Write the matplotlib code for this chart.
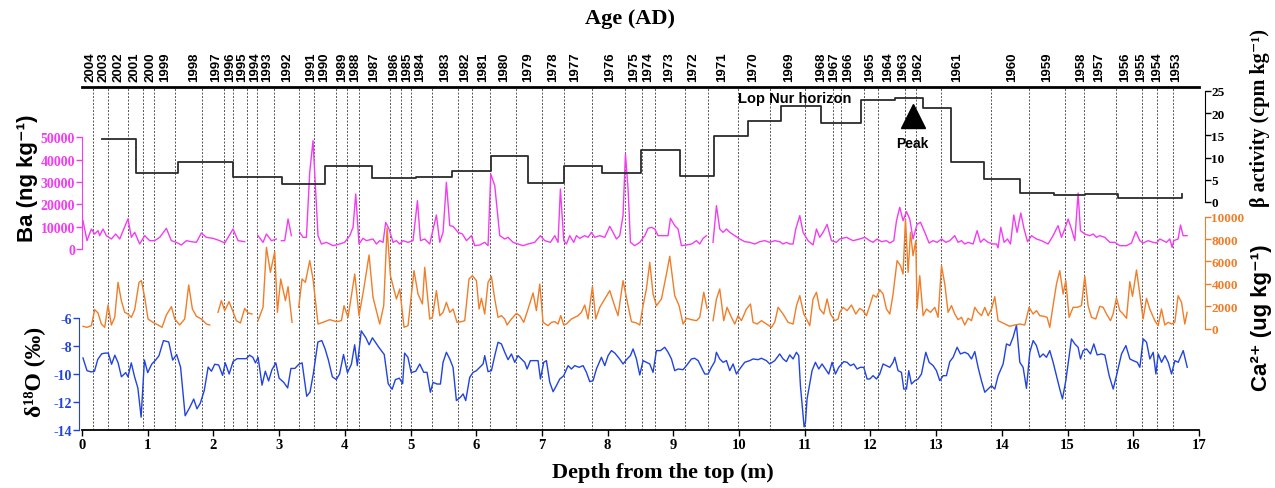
import numpy as np
import matplotlib
matplotlib.use("Agg")
import matplotlib.pyplot as plt

nan = float("nan")

# ---- values ----
years = list(range(2004, 1952, -1))
# where each year label sits on the top axis
label_depth = [0.126, 0.330, 0.549, 0.798, 1.046, 1.263, 1.699, 2.040, 2.257, 2.444, 2.630, 2.816,
               3.128, 3.481, 3.686, 3.953, 4.152, 4.451, 4.743, 4.947, 5.146, 5.519, 5.830, 6.110,
               6.420, 6.793, 7.166, 7.507, 8.035, 8.408, 8.618, 8.930, 9.307, 9.737, 10.209, 10.757,
               11.244, 11.442, 11.655, 11.990, 12.264, 12.493, 12.721, 13.313, 14.150, 14.683, 15.201,
               15.475, 15.870, 16.114, 16.358, 16.647]
# dashed year boundaries
line_depth = [0.167, 0.396, 0.700, 0.928, 1.091, 1.411, 1.833, 2.161, 2.298, 2.518, 2.670, 2.922,
              3.303, 3.527, 3.872, 4.033, 4.216, 4.683, 4.862, 5.014, 5.333, 5.723,
              5.936, 6.216, 6.612, 7.002, 7.336, 7.769, 8.260, 8.530, 8.728, 9.174, 9.534, 9.985,
              10.467, 11.000, 11.431, 11.559, 11.903, 12.116, 12.533, 12.700, 13.081, 13.831,
              14.414, 14.962, 15.251, 15.734, 16.125, 16.363, 16.606]

beta_depth = [0.304, 0.817, 1.461, 2.298, 3.050, 3.694, 4.420, 5.090, 5.632, 6.221, 6.789, 7.332,
              7.915, 8.515, 9.098, 9.619, 10.137, 10.635, 11.244, 11.852, 12.370, 12.801, 13.233,
              13.729, 14.280, 14.790, 15.272, 15.769, 16.746]
beta_value = [14.3, 6.5, 9.1, 5.6, 4.05, 8.2, 5.5, 5.7, 7.05, 10.3, 4.2, 8.0, 6.5, 11.8, 5.9, 14.9,
              18.2, 21.7, 17.8, 23.0, 23.4, 21.1, 8.9, 5.2, 2.0, 1.6, 1.7, 0.9, 1.7]

ba_depth = [0.015, 0.076, 0.143, 0.193, 0.244, 0.269, 0.320, 0.371, 0.447, 0.513, 0.574, 0.700, 0.751,
            0.802, 0.878, 0.954, 1.030, 1.107, 1.183, 1.284, 1.360, 1.436, 1.513, 1.589, 1.665, 1.741,
            1.817, 1.893, 1.995, 2.096, 2.172, 2.299, 2.375, 2.476, nan, 2.679, 2.755, 2.807, 2.883,
            2.959, nan, 3.035, 3.085, 3.136, 3.187, nan, 3.314, 3.364, 3.415, 3.466, 3.516, 3.592,
            3.644, 3.720, 3.770, 3.821, 3.922, 3.998, 4.075, 4.125, 4.166, 4.216, 4.277, 4.328, 4.429,
            4.481, 4.531, 4.582, 4.622, 4.673, 4.734, 4.785, 4.836, 4.886, 4.962, 5.038, 5.105, 5.151,
            5.216, 5.292, 5.394, 5.445, 5.495, 5.546, 5.597, 5.647, 5.723, 5.790, 5.851, 5.927, 5.977,
            6.053, 6.129, 6.180, 6.221, 6.282, 6.358, 6.434, 6.484, 6.560, 6.636, 6.712, 6.789, 6.890,
            6.977, 7.043, 7.129, 7.195, 7.245, 7.281, 7.332, 7.373, 7.423, 7.484, 7.525, 7.575, 7.651,
            7.702, 7.753, 7.804, 7.880, 7.956, 8.032, 8.082, 8.134, 8.184, 8.234, 8.271, 8.311, 8.347,
            8.412, 8.489, 8.565, 8.615, 8.667, 8.717, 8.767, 8.843, 8.919, 8.956, 9.021, 9.072, 9.123,
            9.200, 9.276, 9.352, 9.402, 9.452, 9.504, nan, 9.604, 9.656, 9.706, 9.756, 9.808, 9.859,
            9.935, 10.011, 10.087, 10.163, 10.239, 10.315, 10.391, 10.467, 10.543, 10.619, 10.670,
            10.721, 10.772, 10.822, 10.863, 10.924, 10.974, 11.050, 11.126, 11.178, 11.228, 11.279,
            11.340, 11.406, 11.482, 11.533, 11.635, 11.735, 11.837, 11.913, 11.989, 12.040, 12.100,
            12.167, 12.243, 12.294, 12.355, 12.396, 12.446, 12.496, 12.548, 12.598, 12.648, 12.709,
            12.761, 12.827, 12.892, 12.953, 13.014, 13.081, 13.146, 13.207, 13.283, 13.333, 13.385,
            13.435, 13.486, 13.562, 13.623, 13.674, 13.725, 13.790, 13.866, 13.918, 13.942, 13.983,
            14.034, 14.085, 14.131, 14.181, 14.231, 14.288, 14.338, 14.390, 14.451, 14.527, 14.603,
            14.703, 14.779, 14.855, 14.907, 14.957, 15.008, 15.059, 15.110, 15.160, 15.196, 15.262,
            15.338, 15.389, 15.440, 15.490, 15.566, 15.643, 15.719, 15.795, 15.897, 15.973, 16.038,
            16.099, 16.149, 16.225, 16.301, 16.353, 16.404, 16.454, 16.505, 16.556, 16.591, 16.616,
            16.682, 16.719, 16.758, 16.819]
ba_value = [12680, 3730, 8950, 6710, 8210, 5970, 8950, 5970, 4480, 6710, 4480, 13500, 5220,
            7460, 2240, 5970, 3730, 3730, 5220, 9250, 3730, 2980, 1790, 3730, 3280, 2980,
            7160, 5220, 4770, 3730, 2680, 8950, 3730, 3280, nan, 5970, 2980, 6710, 3730,
            4480, nan, 3730, 3730, 13430, 5970, nan, 7460, 5220, 5220, 34330, 48490, 5970,
            2240, 2980, 2240, 1490, 2240, 2980, 5970, 9700, 24620, 2240, 4770, 3730, 4480,
            2240, 3730, 2980, 11940, 8950, 2980, 3730, 2240, 3730, 2980, 3730, 21640, 3730,
            4480, 2240, 15220, 2980, 7460, 29840, 10440, 10150, 7460, 6710, 3730, 5970, 1490,
            1790, 2980, 1490, 33570, 28350, 5970, 4480, 5220, 2980, 2240, 1490, 2240, 2980,
            5970, 3730, 2980, 5970, 2980, 26860, 3730, 2240, 5970, 2980, 5970, 4770, 5970,
            5220, 7460, 5220, 5970, 5220, 10150, 7460, 4480, 5970, 14920, 42520, 26860, 2980,
            1490, 2980, 5970, 9250, 9700, 8950, 5970, 5970, 5970, 13730, 10440, 8950, 1490,
            1790, 2240, 3730, 2240, 4770, 5970, nan, 2980, 19400, 8950, 7460, 8950, 7460,
            5970, 4480, 3280, 2980, 2240, 3280, 3730, 2980, 3730, 3280, 2240,
            2980, 2240, 2240, 8950, 14920, 7460, 3730, 1790, 8950, 5220, 7460,
            11040, 3730, 2980, 4480, 5220, 3730, 4480, 5220, 3730, 2980, 4480,
            3280, 3730, 2680, 3730, 12680, 18650, 12680, 16710, 13430, 4480, 11040,
            11940, 7460, 2680, 3730, 2980, 4480, 2980, 3730, 5970, 2980, 3730,
            2240, 2980, 2240, 8200, 2980, 4480, 2980, 2240, 2240, 500, 9700,
            2980, 4480, 2240, 15220, 7460, 16110, 8950, 3280, 5970, 4480, 3730,
            2240, 5970, 10440, 5220, 8950, 13430, 8950, 3730, 25070, 8200, 6710,
            5970, 6710, 5220, 5970, 5220, 2980, 2980, 1490, 1490, 2680, 7760,
            3730, 2680, 3730, 2980, 2680, 4480, 3730, 2980, 4480, 750, 3730,
            4480, 10740, 5970, 5970]

ca_depth = [0.015, 0.076, 0.143, 0.193, 0.244, 0.295, 0.346, 0.396, 0.447, 0.498, 0.548, 0.599, 0.650,
            0.700, 0.751, 0.802, 0.868, 0.904, 0.954, 1.005, 1.081, 1.157, 1.218, 1.284, 1.361, 1.411,
            1.487, 1.563, 1.624, 1.680, 1.741, 1.817, 1.893, 1.944, nan, 2.070, 2.121, 2.172, 2.238,
            2.298, 2.350, 2.411, 2.476, 2.527, 2.588, nan, 2.679, 2.755, 2.807, 2.867, 2.933, 2.974,
            3.024, 3.096, 3.136, 3.197, nan, 3.298, 3.349, 3.400, 3.466, 3.516, 3.592, 3.668, 3.770,
            3.872, 3.948, 3.988, 4.049, 4.151, 4.216, 4.288, 4.369, 4.429, 4.531, 4.592, 4.643, 4.694,
            4.785, 4.836, 4.901, 4.962, 5.053, 5.114, 5.181, 5.216, 5.292, 5.333, 5.394, 5.445, 5.495,
            5.546, 5.597, 5.647, 5.708, 5.775, 5.825, 5.890, 5.942, 6.003, 6.043, 6.079, 6.129, 6.180,
            6.231, 6.282, 6.332, 6.383, 6.434, 6.469, 6.536, 6.612, 6.662, 6.723, 6.789, 6.865, 6.916,
            6.967, 7.017, 7.093, 7.145, 7.195, 7.245, 7.286, 7.332, 7.373, 7.449, 7.499, 7.550, 7.601,
            7.651, 7.702, 7.769, 7.819, 7.880, 7.956, 8.032, 8.108, 8.158, 8.234, 8.311, 8.362, 8.438,
            8.489, 8.539, 8.590, 8.641, 8.691, 8.743, 8.819, 8.895, 8.945, 9.021, 9.087, 9.148, 9.200,
            9.276, 9.352, 9.402, 9.463, 9.513, nan, 9.604, 9.656, 9.706, 9.767, 9.817, 9.884, 9.935,
            9.985, 10.036, 10.112, 10.174, 10.213, 10.274, 10.341, 10.417, 10.493, 10.543, 10.594,
            10.670, 10.746, 10.822, 10.874, 10.924, 10.985, 11.026, 11.076, 11.126, 11.178, 11.228,
            11.289, 11.340, 11.391, 11.457, 11.507, 11.533, 11.583, 11.644, 11.711, 11.776, 11.837,
            11.887, 11.939, 11.989, 12.040, 12.092, 12.142, 12.192, 12.243, 12.294, 12.344, 12.405,
            12.457, 12.496, 12.533, 12.573, 12.609, 12.648, 12.690, 12.709, 12.750, 12.801, 12.852,
            12.913, 12.979, 13.029, 13.081, 13.131, 13.181, 13.233, 13.283, 13.333, 13.385, 13.435,
            13.486, 13.538, 13.588, 13.638, 13.690, 13.740, 13.790, 13.842, 13.892, 13.942, 13.994,
            14.044, 14.120, 14.196, 14.272, 14.349, 14.414, 14.475, 14.527, 14.577, 14.638, 14.688,
            14.729, 14.779, 14.831, 14.881, 14.932, 14.973, 15.023, 15.084, 15.145, 15.211, 15.262,
            15.312, 15.364, 15.429, 15.490, 15.541, 15.592, 15.653, 15.692, 15.744, 15.795, 15.845,
            15.897, 15.947, 15.988, 16.049, 16.099, 16.149, 16.201, 16.251, 16.327, 16.378, 16.429,
            16.480, 16.530, 16.582, 16.632, 16.682, 16.734, 16.784, 16.819]
ca_value = [195, 105, 254, 1685, 1386, 400, 105, 2100, 313, 999, 4130, 2490, 1446,
            1297, 999, 1685, 4130, 4280, 2790, 850, 552, 313, 105, 1208, 1953, 850,
            313, 850, 3890, 1744, 1090, 850, 400, 313, nan, 1446, 2490, 1595, 2400,
            1505, 700, 492, 1804, 1386, 1297, nan, 700, 1894, 7260, 5024, 6870, 1446,
            4430, 2490, 3740, 552, nan, 1894, 4430, 4130, 6070, 4430, 400, 552, 790,
            612, 700, 2043, 999, 4875, 1148, 3533, 6575, 2790, 400, 2043, 9000, 4725,
            2640, 3533, 105, 254, 5173, 3085, 2190, 5470, 850, 1000, 3385, 1148, 1446,
            2340, 1446, 1744, 552, 612, 700, 4430, 4725, 4280, 1744, 2700, 1297, 4130,
            4666, 2640, 1000, 1148, 850, 313, 850, 1357, 1148, 552, 1744, 3175, 1595,
            3980, 552, 254, 552, 612, 400, 1148, 313, 400, 850, 1000, 1148, 1446,
            2100, 850, 3775, 850, 1894, 2640, 3385, 1985, 1148, 4280, 2043, 612, 492,
            313, 2043, 3533, 5920, 3085, 2043, 2640, 4875, 6460, 2935, 2043, 400, 910,
            790, 700, 1000, 3240, 1804, nan, 700, 2640, 3533, 700, 1894, 1000, 400,
            1148, 700, 1744, 2190, 552, 400, 700, 400, 105, 552, 1894,
            1297, 552, 400, 2043, 2935, 1297, 850, 254, 2640, 3240, 1744,
            1297, 2640, 1297, 700, 850, 1446, 1894, 1595, 2100, 1297, 1804,
            1595, 1148, 2043, 2997, 2790, 3470, 3085, 1744, 1297, 3085, 6070,
            5620, 4875, 9795, 5024, 8605, 6510, 7850, 1744, 4725, 1148, 1744,
            1446, 1894, 1000, 5620, 3980, 1446, 2043, 1297, 790, 1000, 313,
            910, 700, 1894, 1446, 1148, 1894, 1148, 1744, 2845, 700, 552,
            400, 195, 313, 400, 313, 1894, 1297, 1595, 1148, 1090, 1000,
            105, 2043, 3980, 5173, 3085, 4280, 1000, 1894, 1894, 2043, 4666,
            2043, 1000, 850, 1985, 1894, 1297, 700, 1297, 2730, 1595, 1297,
            910, 4190, 2880, 5233, 3085, 850, 2700, 1744, 700, 254, 1744,
            313, 552, 400, 552, 2935, 2340, 400, 1446]

d18o_depth = [0.015, 0.076, 0.14, 0.19, 0.24, 0.30, 0.35, 0.40, 0.45, 0.50, 0.55, 0.60, 0.665, 0.70,
              0.75, 0.80, 0.85, 0.90, 0.95, 1.00, 1.06, 1.12, 1.17, 1.24, 1.32, 1.38, 1.44, 1.50, 1.57,
              1.64, 1.70, 1.75, 1.80, 1.86, 1.92, 1.97, 2.02, 2.08, 2.14, 2.18, 2.24, 2.30, 2.36, 2.44,
              2.50, 2.55, 2.60, 2.64, 2.68, 2.74, 2.79, 2.84, 2.89, 2.95, 3.00, 3.07, 3.13, 3.18, 3.24,
              3.30, 3.35, 3.42, 3.47, 3.52, 3.59, 3.65, 3.70, 3.75, 3.81, 3.87, 3.92, 3.98, 4.04, 4.10,
              4.15, 4.19, 4.25, 4.32, 4.37, 4.42, 4.52, 4.60, 4.66, 4.72, 4.77, 4.83, 4.88, 4.91, 4.96,
              5.01, 5.08, 5.140, 5.201, 5.251, 5.302, 5.343, 5.404, 5.455, 5.495, 5.546, 5.597, 5.647,
              5.698, 5.759, 5.800, 5.840, 5.901, 5.952, 6.003, 6.053, 6.104, 6.129, 6.180, 6.231, 6.282,
              6.332, 6.383, 6.434, 6.484, 6.536, 6.586, 6.636, 6.687, 6.738, 6.774, 6.824, 6.890, 6.941,
              6.977, 7.027, 7.068, 7.119, 7.170, 7.220, 7.271, 7.332, 7.398, 7.449, 7.499, 7.565, 7.626,
              7.677, 7.728, 7.778, 7.829, 7.905, 7.956, 8.007, 8.057, 8.108, 8.174, 8.235, 8.296, 8.346,
              8.387, 8.438, 8.489, 8.539, 8.590, 8.641, 8.691, 8.742, 8.803, 8.869, 8.920, 8.971, 9.021,
              9.072, 9.148, 9.199, 9.275, 9.326, 9.377, 9.427, 9.478, 9.529, 9.579, 9.630, 9.655, 9.706,
              9.757, 9.808, 9.858, 9.909, 9.960, 10.010, 10.086, 10.162, 10.213, 10.289, 10.340, 10.416,
              10.467, 10.543, 10.619, 10.670, 10.721, 10.771, 10.822, 10.873, 10.908, 10.934, 10.99,
              11.01, 11.035, 11.111, 11.162, 11.213, 11.263, 11.314, 11.365, 11.416, 11.467, 11.517,
              11.593, 11.644, 11.695, 11.746, 11.796, 11.847, 11.898, 11.949, 11.989, 12.040, 12.091,
              12.141, 12.192, 12.243, 12.294, 12.344, 12.370, 12.420, 12.471, 12.507, 12.548, 12.583,
              12.624, 12.675, 12.725, 12.776, 12.842, 12.893, 12.954, 13.004, 13.055, 13.106, 13.156,
              13.207, 13.258, 13.319, 13.369, 13.435, 13.486, 13.537, 13.588, 13.638, 13.689, 13.740,
              13.791, 13.842, 13.892, 13.943, 14.019, 14.070, 14.121, 14.171, 14.222, 14.273, 14.323,
              14.374, 14.425, 14.476, 14.526, 14.577, 14.628, 14.678, 14.729, 14.780, 14.830, 14.881,
              14.922, 14.973, 15.059, 15.110, 15.160, 15.196, 15.237, 15.288, 15.349, 15.399, 15.450,
              15.516, 15.567, 15.633, 15.694, 15.744, 15.821, 15.887, 15.948, 15.999, 16.060, 16.100,
              16.151, 16.202, 16.252, 16.303, 16.344, 16.379, 16.430, 16.481, 16.532, 16.582, 16.633,
              16.684, 16.760, 16.821]
d18o_value = [-8.85, -9.76, -9.85, -9.80, -8.95, -8.55, -8.50, -8.50, -9.30, -8.65, -9.2, -10.2, -9.9, -10.2,
              -9.2, -10.2, -11.0, -13.1, -9.0, -9.9, -9.3, -9.0, -8.7, -7.6, -7.7, -9.0, -8.6, -9.5, -13.0,
              -12.4, -11.8, -12.5, -12.1, -11.2, -9.5, -9.8, -9.3, -9.35, -10.1, -9.2, -10.0, -9.1, -8.9, -8.9,
              -8.9, -8.65, -8.8, -9.2, -8.8, -10.8, -9.8, -10.5, -9.7, -9.2, -10.3, -10.6, -11.0, -9.6, -9.6,
              -9.3, -9.2, -11.6, -11.3, -10.0, -7.7, -7.6, -8.2, -9.0, -10.2, -10.4, -10.0, -8.6, -9.9, -9.3,
              -7.9, -9.4, -6.9, -7.4, -7.9, -7.4, -8.1, -8.6, -10.7, -11.1, -10.4, -10.3, -10.7, -8.5, -8.8,
              -9.9, -9.8, -9.28, -9.88, -9.88, -11.31, -10.60, -10.72, -10.72, -9.16, -8.44, -8.92, -9.52,
              -11.91, -11.67, -11.43, -11.91, -10.24, -9.88, -9.76, -9.52, -9.28, -8.68, -9.83, -9.76, -8.68,
              -7.72, -7.84, -8.44, -8.97, -8.56, -9.16, -8.68, -8.92, -9.16, -9.64, -9.04, -9.04, -9.04,
              -10.36, -9.16, -9.04, -10.60, -11.27, -10.84, -10.36, -10.12, -9.40, -9.64, -9.40, -9.52, -9.40,
              -9.88, -10.55, -10.48, -9.64, -8.80, -9.40, -8.68, -8.32, -8.49, -8.87, -9.28, -8.92, -8.68,
              -8.20, -8.92, -10.07, -9.04, -9.16, -9.28, -9.88, -8.32, -8.32, -8.08, -8.44, -8.92, -9.76,
              -9.64, -9.69, -9.40, -8.92, -8.87, -9.04, -9.52, -10.00, -10.00, -9.52, -9.11, -8.44, -8.92,
              -9.16, -9.04, -9.76, -9.28, -10.00, -9.64, -9.16, -9.04, -8.92, -8.97, -8.87, -9.04,
              -9.28, -9.04, -8.56, -8.92, -9.11, -8.63, -8.92, -8.44, -8.68, -10.84, -13.8,
              -13.5, -11.79, -9.76, -9.16, -9.64, -9.28, -9.64, -10.00, -9.16, -10.00, -9.52,
              -9.11, -9.16, -9.40, -9.28, -9.64, -9.52, -9.52, -10.36, -10.36, -10.12, -10.36,
              -10.00, -9.28, -9.40, -9.52, -9.16, -8.80, -9.76, -9.88, -11.08, -11.08, -9.76,
              -10.72, -10.48, -10.36, -10.00, -8.44, -9.16, -9.40, -9.76, -10.48, -10.12, -10.12,
              -9.11, -8.80, -8.08, -8.56, -8.44, -8.56, -8.92, -8.39, -9.52, -10.48, -11.31,
              -11.08, -10.84, -11.08, -10.12, -9.28, -7.84, -7.96, -7.36, -6.5, -9.16, -9.52,
              -11.03, -8.44, -7.60, -7.96, -8.80, -8.56, -8.80, -8.32, -9.16, -10.12, -11.08,
              -11.79, -10.48, -7.48, -7.84, -8.08, -8.92, -8.32, -8.20, -8.56, -7.84, -8.63,
              -8.56, -8.63, -10.12, -11.08, -10.12, -8.56, -7.96, -8.92, -9.04, -9.16, -9.52,
              -7.48, -7.72, -8.92, -8.44, -10.00, -8.56, -9.16, -8.68, -9.16, -10.00, -9.04,
              -9.16, -8.32, -9.52]

# ---- styling ----
plt.rcParams["font.family"] = ["Liberation Serif", "DejaVu Serif"]
plt.rcParams["font.weight"] = "bold"
plt.rcParams["axes.unicode_minus"] = False

MAG = "#f23cf2"
ORA = "#f07d28"
BLU = "#2143e0"
SANS = ["Liberation Sans", "DejaVu Sans"]

W, H = 1275, 489
X0, X1, YTOP, YBOT = 82, 1199, 88, 431

fig = plt.figure(figsize=(W / 100, H / 100), dpi=100)
ax = fig.add_axes([X0 / W, 1 - YBOT / H, (X1 - X0) / W, (YBOT - YTOP) / H])


def ylim_for(va, pa, vb, pb):
    # value range of the whole axes so that va sits at pixel row pa and vb at pb
    k = (vb - va) / (pb - pa)
    return va + (YBOT - pa) * k, va + (YTOP - pa) * k


def only_spine(a, side):
    for s in a.spines:
        a.spines[s].set_visible(s == side)


# delta 18O (main axes, left side, bottom depth axis)
ax.set_xlim(0, 17)
ax.set_ylim(ylim_for(-14, 430.7, -6, 319.3))
for s in ("top", "right"):
    ax.spines[s].set_visible(False)
ax.spines["left"].set_bounds(-14, -6)
ax.spines["left"].set_color(BLU)
ax.spines["left"].set_position(("outward", 2))
ax.set_yticks([-14, -12, -10, -8, -6])
ax.tick_params(axis="y", colors=BLU, labelsize=10, length=4, width=1, pad=1)
ax.set_xticks(range(0, 18))
ax.tick_params(axis="x", labelsize=10.5, length=4, width=1, pad=2)
ax.spines["bottom"].set_linewidth(1.3)
for d in line_depth:
    ax.axvline(d, color="#555555", lw=0.7, ls=(0, (2, 1.6)), zorder=0)
ax.plot(d18o_depth, d18o_value, color=BLU, lw=1.0)

# Ba
ax_ba = ax.twinx()
only_spine(ax_ba, "left")
ax_ba.yaxis.tick_left()
ax_ba.set_ylim(ylim_for(0, 250, 50000, 138.3))
ax_ba.spines["left"].set_bounds(0, 50000)
ax_ba.spines["left"].set_color(MAG)
ax_ba.set_yticks(range(0, 50001, 10000))
ax_ba.tick_params(axis="y", colors=MAG, labelsize=10, length=4, width=1, pad=1)
ax_ba.plot(ba_depth, ba_value, color=MAG, lw=1.0)

# Ca2+
ax_ca = ax.twinx()
only_spine(ax_ca, "right")
ax_ca.set_ylim(ylim_for(0, 329.5, 10000, 217.7))
ax_ca.spines["right"].set_bounds(0, 10000)
ax_ca.spines["right"].set_color(ORA)
ax_ca.spines["right"].set_position(("outward", 4))
ax_ca.set_yticks(range(0, 10001, 2000))
ax_ca.tick_params(axis="y", colors=ORA, labelsize=9.5, length=4, width=1, pad=1)
ax_ca.plot(ca_depth, ca_value, color=ORA, lw=1.0)

# beta activity
ax_b = ax.twinx()
only_spine(ax_b, "right")
ax_b.set_ylim(ylim_for(0, 203, 25, 92))
ax_b.spines["right"].set_bounds(0, 25)
ax_b.spines["right"].set_position(("outward", 4))
ax_b.set_yticks(range(0, 26, 5))
ax_b.tick_params(axis="y", labelsize=9.5, length=4, width=1, pad=1)
ax_b.step(beta_depth, beta_value, where="post", color="#2b2b2b", lw=1.3)
ax_b.text(10.84, 23.4, "Lop Nur horizon", family=SANS, fontsize=10.5, ha="center", va="center")
ax_b.plot([12.64], [19.4], marker="^", ms=17, color="black", ls="none")
ax_b.text(12.64, 13.3, "Peak", family=SANS, fontsize=10, ha="center", va="center")

# top age axis
ax_top = ax.twiny()
only_spine(ax_top, "top")
ax_top.spines["top"].set_linewidth(2)
ax_top.set_xlim(0, 17)
ax_top.set_xticks(label_depth)
ax_top.set_xticklabels([str(y) for y in years], rotation=90, family=SANS, fontsize=9.5)
ax_top.tick_params(axis="x", length=0, pad=4)

# titles / axis labels
fig.text(630 / W, 1 - 19 / H, "Age (AD)", fontsize=16, ha="center", va="center")
fig.text(663 / W, 1 - 473 / H, "Depth from the top (m)", fontsize=16, ha="center", va="center")
fig.text(27 / W, 1 - 178 / H, "Ba (ng kg\u207b\u00b9)", family=SANS, fontsize=16,
         rotation=90, ha="center", va="center")
fig.text(34 / W, 1 - 372 / H, "\u03b4\u00b9\u2078O (\u2030)", fontsize=17,
         rotation=90, ha="center", va="center")
fig.text(1260 / W, 1 - 118 / H, "\u03b2 activity (cpm kg\u207b\u00b9)", fontsize=14.5,
         rotation=90, ha="center", va="center")
fig.text(1262 / W, 1 - 318 / H, "Ca\u00b2\u207a (ug kg\u207b\u00b9)", family=SANS, fontsize=16,
         rotation=90, ha="center", va="center")

fig.savefig("out.png", dpi=100)
